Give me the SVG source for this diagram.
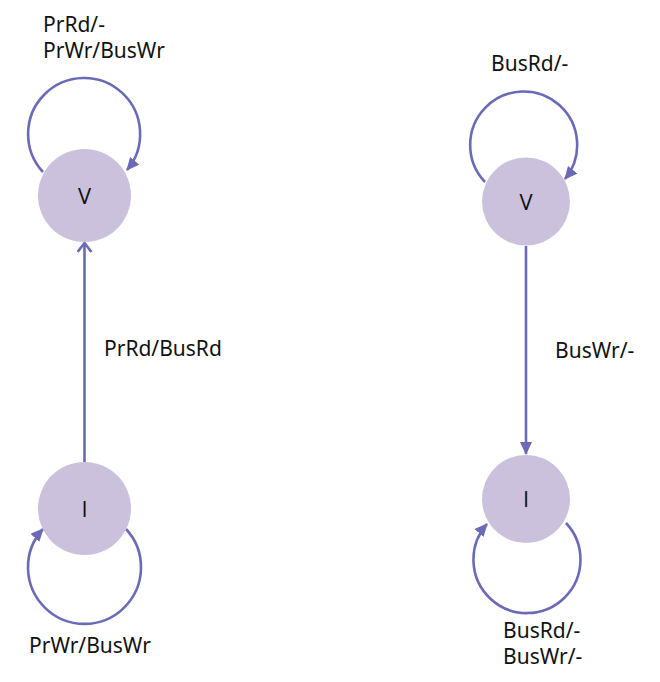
<svg xmlns="http://www.w3.org/2000/svg" width="660" height="682" viewBox="0 0 660 682">
<style>
.node{fill:#cbc1dc;}
.lbl{font-family:"Noto Sans","Open Sans",sans-serif;font-size:21px;fill:#111;}
.mid{font-family:"Open Sans","DejaVu Sans",sans-serif;text-anchor:middle;font-size:22px;fill:#111;}
.edge{fill:none;stroke:#6a6ab6;stroke-width:2.6;}
</style>
<defs>
<marker id="tri" markerUnits="userSpaceOnUse" markerWidth="14" markerHeight="12" refX="12" refY="6" orient="auto">
<path d="M0,0 L13,6 L0,12 z" fill="#6a6ab6"/>
</marker>
<marker id="open" markerUnits="userSpaceOnUse" markerWidth="14" markerHeight="16" refX="10" refY="8" orient="auto">
<path d="M1,1 L10,8 L1,15" fill="none" stroke="#6a6ab6" stroke-width="2.6"/>
</marker>
</defs>
<g id="connectors">
<path class="edge" d="M43,172 A56 56 0 1 1 127,170" marker-end="url(#tri)"/>
<path class="edge" d="M126,529 A56.5 56.5 0 1 1 43,529" marker-end="url(#tri)"/>
<path class="edge" d="M485,182 A53.5 53.5 0 1 1 565,179" marker-end="url(#tri)"/>
<path class="edge" d="M566,523 A53.5 53.5 0 1 1 487,524" marker-end="url(#tri)"/>
<line class="edge" x1="84.5" y1="462" x2="84.5" y2="243" marker-end="url(#open)"/>
<line class="edge" x1="526" y1="246" x2="526" y2="454" marker-end="url(#tri)"/>
</g>
<g id="node-left-V">
<circle class="node" cx="84.5" cy="195.5" r="46.5"/>
<text class="mid" x="84.5" y="203.5">V</text>
</g>
<g id="node-left-I">
<circle class="node" cx="84.5" cy="508.5" r="46.5"/>
<text class="mid" x="84.5" y="516.5">I</text>
</g>
<g id="node-right-V">
<circle class="node" cx="526" cy="201.5" r="44"/>
<text class="mid" x="526" y="209.5">V</text>
</g>
<g id="node-right-I">
<circle class="node" cx="526" cy="499" r="44"/>
<text class="mid" x="526" y="507">I</text>
</g>
<g id="labels">
<text class="lbl" x="43" y="32">PrRd/-</text>
<text class="lbl" x="43" y="58">PrWr/BusWr</text>
<text class="lbl" x="104" y="356">PrRd/BusRd</text>
<text class="lbl" x="29" y="653">PrWr/BusWr</text>
<text class="lbl" x="491" y="71">BusRd/-</text>
<text class="lbl" x="555" y="358">BusWr/-</text>
<text class="lbl" x="503" y="638" font-size="20">BusRd/-</text>
<text class="lbl" x="503" y="664" font-size="20">BusWr/-</text>
</g>
</svg>
